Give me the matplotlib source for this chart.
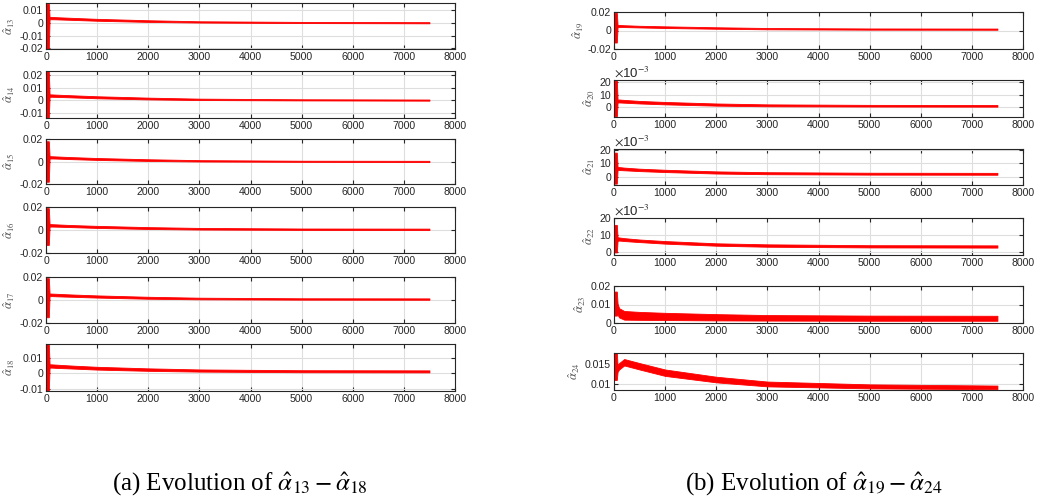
import matplotlib
matplotlib.use("Agg")
import matplotlib.pyplot as plt

plt.rcParams['font.family'] = ['Liberation Sans', 'DejaVu Sans']
plt.rcParams['mathtext.fontset'] = 'stix'

# ---------------------------------------------------------
# Data: envelope (lower / upper) of each noisy estimate,
# read off the picture at a few iteration counts
# ---------------------------------------------------------
x_env = [0, 55, 70, 100, 200, 500, 1000, 2000, 3000, 5000, 7500]

# (a) alpha_13 .. alpha_18
a13_lo = [-0.020, -0.020, 0.0027, 0.0028, 0.0027, 0.0023, 0.0016, 0.0007, 0.0002, -0.0002, -0.0004]
a13_hi = [0.015, 0.015, 0.0046, 0.0046, 0.0044, 0.0039, 0.0031, 0.0020, 0.0012, 0.0007, 0.0005]
a14_lo = [-0.014, -0.014, 0.0026, 0.0027, 0.0026, 0.0022, 0.0015, 0.0006, 0.0001, -0.0002, -0.0004]
a14_hi = [0.023, 0.023, 0.0046, 0.0046, 0.0044, 0.0039, 0.0031, 0.0020, 0.0012, 0.0007, 0.0005]
a15_lo = [-0.018, -0.018, 0.0026, 0.0027, 0.0026, 0.0021, 0.0014, 0.0005, 0.0000, -0.0003, -0.0005]
a15_hi = [0.018, 0.018, 0.0047, 0.0047, 0.0045, 0.0039, 0.0031, 0.0020, 0.0012, 0.0007, 0.0006]
a16_lo = [-0.013, -0.013, 0.0029, 0.0030, 0.0029, 0.0025, 0.0018, 0.0009, 0.0004, 0.0001, 0.0000]
a16_hi = [0.019, 0.019, 0.0051, 0.0051, 0.0049, 0.0043, 0.0036, 0.0025, 0.0018, 0.0013, 0.0012]
a17_lo = [-0.015, -0.015, 0.0033, 0.0034, 0.0032, 0.0028, 0.0021, 0.0011, 0.0006, 0.0003, 0.0002]
a17_hi = [0.019, 0.019, 0.0056, 0.0056, 0.0054, 0.0048, 0.0040, 0.0028, 0.0020, 0.0015, 0.0014]
a18_lo = [-0.011, -0.011, 0.0037, 0.0038, 0.0036, 0.0032, 0.0025, 0.0017, 0.0012, 0.0008, 0.0007]
a18_hi = [0.019, 0.019, 0.0059, 0.0059, 0.0057, 0.0051, 0.0043, 0.0033, 0.0026, 0.0021, 0.0020]

# (b) alpha_19 .. alpha_24 (alpha_20..22 in units of 1e-3)
a19_lo = [-0.013, -0.013, 0.0038, 0.0039, 0.0037, 0.0033, 0.0027, 0.0019, 0.0013, 0.0009, 0.0008]
a19_hi = [0.019, 0.019, 0.0060, 0.0060, 0.0057, 0.0051, 0.0045, 0.0035, 0.0027, 0.0022, 0.0021]
a20_lo = [-7.0, -7.0, 3.8, 3.9, 3.7, 3.1, 2.4, 1.4, 0.9, 0.7, 0.6]
a20_hi = [21.0, 21.0, 6.2, 6.2, 5.9, 5.1, 4.3, 3.1, 2.4, 2.0, 1.9]
a21_lo = [-5.0, -5.0, 5.0, 5.1, 4.9, 4.3, 3.6, 2.5, 2.0, 1.7, 1.6]
a21_hi = [18.0, 18.0, 7.4, 7.3, 6.9, 6.1, 5.3, 4.1, 3.5, 3.1, 3.0]
a22_lo = [0.0, 0.0, 6.7, 6.9, 6.6, 6.0, 5.1, 3.9, 3.3, 2.9, 2.8]
a22_hi = [16.0, 16.0, 8.8, 8.7, 8.3, 7.5, 6.6, 5.3, 4.7, 4.2, 4.1]
a23_lo = [0.004, 0.004, 0.0045, 0.0030, 0.0018, 0.0017, 0.0016, 0.0014, 0.0013, 0.0012, 0.0012]
a23_hi = [0.017, 0.017, 0.0105, 0.0080, 0.0065, 0.0060, 0.0055, 0.0048, 0.0043, 0.0040, 0.0039]
a24_lo = [0.011, 0.011, 0.0130, 0.0136, 0.0146, 0.0136, 0.0120, 0.0104, 0.0094, 0.0089, 0.0087]
a24_hi = [0.0178, 0.0178, 0.0146, 0.0152, 0.0162, 0.0152, 0.0136, 0.0118, 0.0106, 0.0099, 0.0096]

left_series = [(a13_lo, a13_hi), (a14_lo, a14_hi), (a15_lo, a15_hi),
               (a16_lo, a16_hi), (a17_lo, a17_hi), (a18_lo, a18_hi)]
right_series = [(a19_lo, a19_hi), (a20_lo, a20_hi), (a21_lo, a21_hi),
                (a22_lo, a22_hi), (a23_lo, a23_hi), (a24_lo, a24_hi)]

left_names = ['13', '14', '15', '16', '17', '18']
right_names = ['19', '20', '21', '22', '23', '24']

left_ylim = [(-0.0205, 0.0155), (-0.0142, 0.0232), (-0.02, 0.02),
             (-0.02, 0.02), (-0.02, 0.02), (-0.0113, 0.019)]
left_yticks = [[-0.02, -0.01, 0, 0.01], [-0.01, 0, 0.01, 0.02], [-0.02, 0, 0.02],
               [-0.02, 0, 0.02], [-0.02, 0, 0.02], [-0.01, 0, 0.01]]
right_ylim = [(-0.02, 0.02), (-7.5, 21.5), (-6.0, 20.7),
              (-1.5, 20.0), (0, 0.02), (0.0085, 0.0177)]
right_yticks = [[-0.02, 0, 0.02], [0, 10, 20], [0, 10, 20],
                [0, 10, 20], [0, 0.01, 0.02], [0.01, 0.015]]
right_sci = [False, True, True, True, False, False]

xticks = [0, 1000, 2000, 3000, 4000, 5000, 6000, 7000, 8000]

W, H = 1038, 496
fig = plt.figure(figsize=(W / 100, H / 100), dpi=100)

tick_color = '#262626'


def draw(ax, lo, hi, ylim, yticks, name):
    ax.fill_between(x_env, lo, hi, color='red', linewidth=0.6, edgecolor='red')
    ax.set_xlim(0, 8000)
    ax.set_ylim(*ylim)
    ax.set_xticks(xticks)
    ax.set_xticklabels([str(t) for t in xticks])
    ax.set_yticks(yticks)
    ax.set_yticklabels(['%g' % t for t in yticks])
    ax.grid(True, color='#dedede', linewidth=0.8)
    ax.set_axisbelow(True)
    ax.tick_params(direction='in', length=3, width=0.8, top=True, right=True,
                   labelsize=7.6, colors=tick_color, pad=2)
    for sp in ax.spines.values():
        sp.set_color(tick_color)
        sp.set_linewidth(0.8)
    ax.set_ylabel(r'$\hat{\alpha}_{%s}$' % name, fontsize=9, color='#555555', labelpad=2)


# left panel
lx0, lx1 = 46, 455
left_rows = [(3, 49), (71, 118), (139, 184), (207, 253), (277, 323), (344, 391)]
for (top, bot), (lo, hi), ylim, yt, nm in zip(left_rows, left_series, left_ylim, left_yticks, left_names):
    ax = fig.add_axes([lx0 / W, 1 - bot / H, (lx1 - lx0) / W, (bot - top) / H])
    draw(ax, lo, hi, ylim, yt, nm)

# right panel
rx0, rx1 = 614, 1023
right_rows = [(12, 49), (80, 117), (149, 185), (218, 255), (286, 323), (353, 390)]
for (top, bot), (lo, hi), ylim, yt, nm, sci in zip(right_rows, right_series, right_ylim,
                                                   right_yticks, right_names, right_sci):
    ax = fig.add_axes([rx0 / W, 1 - bot / H, (rx1 - rx0) / W, (bot - top) / H])
    draw(ax, lo, hi, ylim, yt, nm)
    if sci:
        ax.text(0.0, 1.0, r'$\times$10$^{-3}$', transform=ax.transAxes,
                fontsize=9.5, color=tick_color, ha='left', va='bottom')

# captions
fig.text(240 / W, 1 - 484 / H, r'(a) Evolution of $\hat{\alpha}_{13} - \hat{\alpha}_{18}$',
         family='Liberation Serif', fontsize=18, ha='center', va='center')
fig.text(814 / W, 1 - 484 / H, r'(b) Evolution of $\hat{\alpha}_{19} - \hat{\alpha}_{24}$',
         family='Liberation Serif', fontsize=18, ha='center', va='center')

fig.savefig('out.png', dpi=100)
